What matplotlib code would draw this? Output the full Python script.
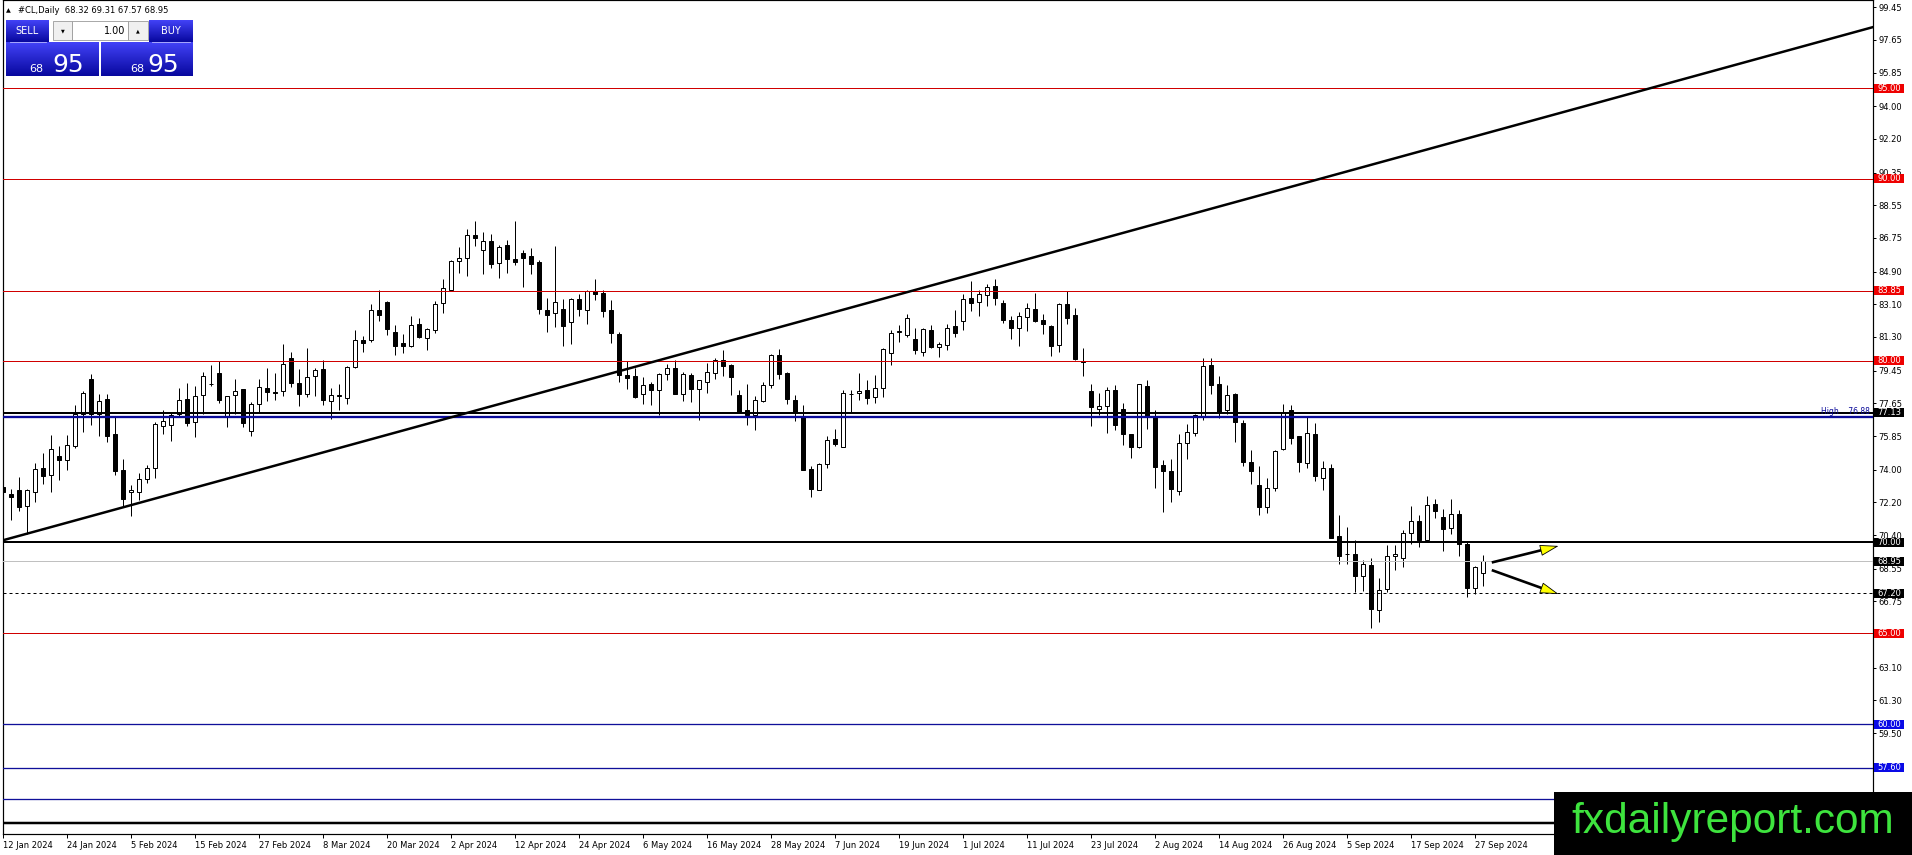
import matplotlib
matplotlib.use("Agg")
import matplotlib.pyplot as plt
import numpy as np
from matplotlib.patches import Rectangle, FancyArrowPatch
from matplotlib import transforms

# ---------------- data ----------------
opens = [73.05, 72.68, 72.87, 72.02, 72.77, 74.11, 73.73, 74.74, 74.55, 75.32,
         77.05, 78.97, 77.05, 77.87, 75.98, 73.97, 72.79, 72.77, 73.51, 74.11,
         76.40, 76.48, 77.08, 77.87, 76.62, 78.09, 78.70, 79.34, 76.90, 78.13,
         78.42, 76.13, 77.62, 78.51, 78.29, 78.33, 80.16, 78.79, 78.16, 79.17,
         79.56, 77.78, 78.05, 77.96, 79.65, 81.12, 81.15, 82.77, 83.21, 81.56,
         80.95, 80.79, 81.99, 81.26, 81.70, 83.19, 83.87, 85.50, 85.66, 86.89,
         86.10, 86.58, 85.39, 86.34, 85.61, 85.94, 85.74, 85.43, 82.80, 82.64,
         82.86, 82.12, 83.37, 82.80, 83.83, 83.74, 82.77, 81.48, 79.19, 79.14,
         78.18, 78.73, 78.37, 79.25, 79.61, 78.18, 79.19, 78.44, 78.84, 79.34,
         80.02, 79.74, 78.13, 77.30, 77.03, 77.80, 78.64, 80.29, 79.32, 77.85,
         76.90, 74.06, 72.90, 74.33, 75.71, 75.25, 78.15, 78.22, 78.40, 78.00,
         78.51, 80.42, 81.56, 81.41, 81.17, 80.47, 81.70, 80.75, 80.88, 81.89,
         82.18, 83.46, 83.23, 83.63, 84.09, 83.19, 82.25, 81.80, 82.40, 82.86,
         82.22, 81.89, 80.86, 83.13, 82.49, 79.98, 78.31, 77.34, 77.50, 78.40,
         77.32, 75.95, 75.25, 78.60, 76.95, 74.28, 73.91, 72.83, 75.47, 76.02,
         76.90, 79.78, 78.73, 77.27, 78.18, 76.59, 74.43, 73.14, 71.95, 72.99,
         75.12, 77.27, 75.84, 74.39, 75.95, 73.56, 74.11, 70.33, 69.38, 69.38,
         68.15, 68.77, 66.30, 67.42, 69.27, 69.16, 70.52, 71.16, 70.15, 72.10,
         71.40, 70.81, 71.58, 69.93, 67.51, 68.32]
highs = [75.25, 72.96, 73.60, 72.96, 74.37, 74.92, 75.89, 75.29, 75.89, 77.54,
         78.33, 79.28, 78.18, 78.15, 76.90, 74.57, 73.14, 73.82, 74.24, 76.62,
         77.30, 77.12, 78.51, 78.79, 78.62, 79.37, 79.78, 79.96, 78.07, 78.97,
         78.42, 77.74, 78.99, 79.61, 79.30, 80.90, 80.46, 79.52, 80.71, 79.61,
         80.05, 78.51, 78.73, 79.69, 81.67, 81.34, 83.10, 83.90, 83.28, 81.94,
         81.48, 82.48, 82.36, 81.79, 83.28, 84.51, 85.52, 86.25, 87.22, 87.66,
         87.08, 86.98, 86.38, 86.62, 87.66, 86.07, 86.21, 85.52, 83.46, 86.29,
         83.41, 83.46, 83.68, 83.87, 84.47, 83.90, 83.32, 81.57, 79.96, 79.61,
         79.10, 78.81, 79.32, 79.83, 80.02, 79.37, 79.32, 78.95, 79.89, 80.16,
         80.60, 79.83, 78.40, 78.70, 78.07, 78.84, 80.35, 80.66, 79.37, 78.13,
         77.54, 74.19, 74.37, 75.84, 76.26, 78.40, 78.40, 79.34, 78.92, 79.19,
         80.71, 81.70, 81.94, 82.55, 81.81, 81.81, 81.94, 81.02, 82.03, 82.77,
         83.65, 84.38, 83.90, 84.23, 84.51, 83.35, 82.46, 82.68, 83.17, 83.74,
         82.58, 81.94, 83.17, 83.83, 82.91, 80.71, 78.73, 78.24, 78.55, 78.64,
         77.69, 75.98, 78.70, 78.92, 77.30, 74.52, 74.61, 75.95, 76.53, 77.08,
         80.16, 80.16, 79.14, 78.64, 78.22, 76.72, 75.10, 74.19, 73.56, 75.10,
         77.63, 77.54, 75.84, 76.90, 76.57, 74.46, 74.33, 71.49, 70.85, 70.15,
         69.01, 69.11, 68.01, 69.84, 69.84, 70.70, 71.99, 71.53, 72.53, 72.41,
         71.86, 72.41, 71.77, 70.08, 68.68, 69.31]
lows = [72.41, 71.25, 71.73, 70.48, 72.22, 73.23, 72.77, 73.42, 73.97, 75.19,
        76.07, 76.44, 75.85, 75.52, 73.69, 71.95, 71.43, 72.35, 73.27, 73.56,
        75.95, 75.58, 76.90, 76.39, 75.80, 77.08, 78.60, 77.67, 76.35, 77.08,
        76.35, 75.87, 77.14, 77.78, 77.82, 78.04, 78.55, 77.50, 78.00, 78.04,
        77.56, 76.79, 77.30, 77.60, 79.61, 80.47, 81.02, 82.18, 81.39, 80.29,
        80.42, 80.75, 81.26, 80.60, 81.52, 82.62, 83.87, 84.82, 84.67, 86.31,
        84.75, 85.11, 84.56, 84.82, 85.28, 84.05, 84.78, 82.58, 81.57, 81.85,
        80.83, 80.90, 82.44, 81.99, 83.35, 82.40, 80.97, 78.81, 78.46, 77.96,
        77.60, 77.54, 76.99, 78.92, 78.15, 77.76, 77.72, 76.72, 78.22, 78.99,
        79.14, 78.09, 77.12, 76.48, 76.20, 77.72, 78.51, 79.01, 77.63, 76.68,
        73.97, 72.50, 72.87, 74.09, 75.29, 75.25, 77.17, 77.85, 77.63, 77.69,
        78.00, 79.74, 81.02, 81.30, 80.38, 80.25, 80.71, 80.20, 80.57, 81.30,
        81.70, 82.73, 82.44, 82.99, 83.04, 82.07, 81.21, 80.81, 81.63, 82.12,
        81.45, 80.24, 80.47, 81.99, 80.05, 79.14, 76.39, 76.99, 76.02, 76.20,
        75.34, 74.64, 75.19, 76.22, 72.99, 71.67, 72.21, 72.59, 74.57, 75.84,
        76.72, 78.15, 76.86, 77.05, 75.52, 74.21, 73.23, 71.49, 71.62, 72.81,
        75.07, 75.43, 73.87, 74.09, 73.38, 72.90, 70.21, 68.83, 68.83, 67.24,
        67.31, 65.29, 65.62, 67.27, 68.50, 68.65, 69.93, 69.75, 70.08, 71.34,
        69.53, 70.48, 69.25, 67.00, 67.13, 67.57]
closes = [72.77, 72.50, 71.95, 72.87, 74.06, 73.66, 75.16, 74.55, 75.38, 77.08,
          78.24, 77.05, 77.80, 75.85, 73.93, 72.39, 72.87, 73.51, 74.11, 76.50,
          76.66, 76.99, 77.82, 76.57, 78.07, 79.17, 78.73, 77.83, 78.07, 78.35,
          76.57, 77.63, 78.57, 78.29, 78.22, 79.83, 78.77, 78.16, 79.12, 79.50,
          77.83, 78.13, 78.13, 79.65, 81.15, 80.97, 82.80, 82.51, 81.72, 80.82,
          80.82, 81.98, 81.30, 81.76, 83.13, 84.01, 85.46, 85.66, 86.89, 86.76,
          86.58, 85.33, 86.25, 85.59, 85.43, 85.66, 85.33, 82.86, 82.53, 83.21,
          81.91, 83.41, 82.86, 83.81, 83.68, 82.73, 81.52, 79.19, 79.06, 78.00,
          78.68, 78.40, 79.25, 79.59, 78.18, 79.25, 78.46, 78.92, 79.38, 80.02,
          79.69, 79.10, 77.16, 76.99, 77.85, 78.64, 80.29, 79.28, 77.89, 77.12,
          74.00, 72.96, 74.33, 75.65, 75.40, 78.24, 78.18, 78.33, 77.94, 78.51,
          80.62, 81.54, 81.61, 82.36, 80.60, 81.76, 80.75, 80.93, 81.81, 81.52,
          83.41, 83.17, 83.68, 84.05, 83.46, 82.22, 81.80, 82.44, 82.91, 82.16,
          82.02, 80.80, 83.13, 82.34, 80.07, 79.94, 77.45, 77.52, 78.37, 76.44,
          75.95, 75.25, 78.70, 76.95, 74.15, 73.93, 72.94, 75.49, 76.07, 77.03,
          79.69, 78.64, 77.17, 78.13, 76.61, 74.43, 73.93, 71.95, 73.01, 75.01,
          77.17, 75.76, 74.42, 76.04, 73.65, 74.11, 70.24, 69.25, 69.33, 68.15,
          68.83, 66.32, 67.40, 69.23, 69.33, 70.52, 71.16, 70.11, 72.04, 71.73,
          70.76, 71.58, 69.88, 67.51, 68.65, 68.95]

date_labels = ["12 Jan 2024", "24 Jan 2024", "5 Feb 2024", "15 Feb 2024",
               "27 Feb 2024", "8 Mar 2024", "20 Mar 2024", "2 Apr 2024",
               "12 Apr 2024", "24 Apr 2024", "6 May 2024", "16 May 2024",
               "28 May 2024", "7 Jun 2024", "19 Jun 2024", "1 Jul 2024",
               "11 Jul 2024", "23 Jul 2024", "2 Aug 2024", "14 Aug 2024",
               "26 Aug 2024", "5 Sep 2024", "17 Sep 2024", "27 Sep 2024"]
date_step = 8

price_ticks = [99.45, 97.65, 95.85, 94.00, 92.20, 90.35, 88.55, 86.75, 84.90,
               83.10, 81.30, 79.45, 77.65, 75.85, 74.00, 72.20, 70.40, 68.55,
               66.75, 64.90, 63.10, 61.30, 59.50, 57.65, 55.85]

red_levels = [95.00, 90.00, 83.85, 80.00, 65.00]
blue_levels = [60.00, 57.60, 55.85]
blue_labelled = [60.00, 57.60]
resistance_level = 77.13
high_level = 76.88
support_level = 70.00
bid_price = 68.95
dashed_level = 67.20
bottom_level = 54.55

trend_bars = [3, 15]
trend_prices = [70.48, 71.93]

arrow_start_bars = [186.05, 186.05]
arrow_start_prices = [68.89, 68.47]
arrow_end_bars = [194.4, 194.4]
arrow_end_prices = [69.80, 67.15]

header_symbol = "#CL,Daily"

# ---------------- figure ----------------
W, H = 1912, 855
fig = plt.figure(figsize=(W / 100, H / 100), dpi=100)
fig.patch.set_facecolor("white")

L_px, R_px, T_px, B_px = 2.7, 1873.0, 0.5, 834.3
ax = fig.add_axes([L_px / W, 1 - B_px / H, (R_px - L_px) / W, (B_px - T_px) / H])
ax.set_facecolor("white")

n = len(opens)
x = np.arange(n)
o = np.array(opens); h = np.array(highs); l = np.array(lows); c = np.array(closes)

ymin, ymax = 53.93, 99.82
ax.set_xlim(-0.075, 233.7)
ax.set_ylim(ymin, ymax)
ppu = (B_px - T_px) / (ymax - ymin)  # pixels per price unit

px = 0.72  # one pixel in points

# candles
ax.vlines(x, l, h, color="black", lw=px, zorder=3)
up = c >= o
bottoms = np.where(up, o, c)
heights = np.abs(c - o)
ax.bar(x, heights, bottom=bottoms, width=0.5,
       color=np.where(up, "white", "black"), edgecolor="black",
       linewidth=px, zorder=4)

# horizontal levels
for lv in red_levels:
    ax.axhline(lv, color="#d00000", lw=px, zorder=5)
for lv in blue_levels:
    ax.axhline(lv, color="#10109a", lw=px * 1.3, zorder=5)
ax.axhline(resistance_level, color="black", lw=px * 2, zorder=5)
ax.axhline(high_level, color="#0a0a9a", lw=px * 2.3, zorder=5)
ax.axhline(support_level, color="black", lw=px * 2, zorder=5)
ax.axhline(bid_price, color="#c0c0c0", lw=px, zorder=5)
ax.axhline(dashed_level, color="black", lw=px, ls=(0, (3, 3)), zorder=5)
ax.axhline(bottom_level, color="black", lw=px * 2.5, zorder=5)

# trend line
ax.axline((trend_bars[0], trend_prices[0]), (trend_bars[1], trend_prices[1]),
          color="black", lw=1.8, zorder=6)

# arrows
for xs, ys, xe, ye in zip(arrow_start_bars, arrow_start_prices,
                          arrow_end_bars, arrow_end_prices):
    ax.plot([xs, xe - (xe - xs) * 0.18], [ys, ye - (ye - ys) * 0.18],
            color="black", lw=1.9, zorder=7, solid_capstyle="butt")
    head = FancyArrowPatch((xe - (xe - xs) * 0.3, ye - (ye - ys) * 0.3), (xe, ye),
                           arrowstyle="-|>,head_length=12,head_width=3.6",
                           mutation_scale=1, shrinkA=0, shrinkB=0,
                           facecolor="#ffff00", edgecolor="black", lw=0.6,
                           zorder=8)
    head.set_linewidth(0.6)
    ax.add_patch(head)

# axes styling
for sp in ax.spines.values():
    sp.set_color("black")
    sp.set_linewidth(px * 1.2)
ax.yaxis.tick_right()
ax.set_yticks(price_ticks)
ax.set_yticklabels([f"{v:.2f}" for v in price_ticks])
ax.tick_params(axis="y", which="both", direction="out", length=2.5, width=px,
               labelsize=6, pad=1.5, colors="black", left=False)
tick_pos = list(range(0, n, date_step))[:len(date_labels)]
ax.set_xticks(tick_pos)
ax.set_xticklabels(date_labels, ha="left")
ax.tick_params(axis="x", direction="out", length=3, width=px, labelsize=6,
               pad=1.5, colors="black")

# right-axis label boxes
blend = transforms.blended_transform_factory(ax.transAxes, ax.transData)
bx0 = (1874 - L_px) / (R_px - L_px)
bw = 30 / (R_px - L_px)
bh = 9 / ppu


def add_box(price, color):
    ax.add_patch(Rectangle((bx0, price - bh / 2), bw, bh, transform=blend,
                           facecolor=color, edgecolor="none", clip_on=False,
                           zorder=20))
    ax.text(bx0 + bw / 2, price, f"{price:.2f}", transform=blend, color="white",
            fontsize=6, ha="center", va="center", clip_on=False, zorder=21)


for lv in red_levels:
    add_box(lv, "#ee0000")
for lv in [resistance_level, support_level, bid_price, dashed_level]:
    add_box(lv, "black")
for lv in blue_labelled:
    add_box(lv, "#0a0ae6")

ax.text(1 - 3 / (R_px - L_px), high_level + 1.5 / ppu,
        f"High    {high_level:.2f}", transform=blend, color="#0a0a9a",
        fontsize=5.5, ha="right", va="bottom", zorder=9)

# ---------------- overlay (panel, header, watermark) ----------------
ov = fig.add_axes([0, 0, 1, 1], zorder=10)
ov.patch.set_alpha(0)
ov.set_axis_off()


def grad_rect(x0, y0, x1, y1, top=(0.26, 0.26, 0.97), bottom=(0.03, 0.03, 0.62)):
    t = np.linspace(0, 1, 64)[:, None, None]
    arr = np.array(top)[None, None, :] * (1 - t) + np.array(bottom)[None, None, :] * t
    ov.imshow(arr, extent=(x0, x1, y1, y0), origin="upper", aspect="auto",
              interpolation="bilinear", zorder=20)


# header line
ov.text(6, 10.5, "\u25B2", fontsize=4.5, ha="left", va="center", color="black", zorder=25)
ov.text(18, 10.5, f"{header_symbol}  {opens[-1]:.2f} {highs[-1]:.2f} {lows[-1]:.2f} {closes[-1]:.2f}",
        fontsize=6, ha="left", va="center", color="black", zorder=25)

# one-click trading panel
grad_rect(6, 20, 49, 42)
grad_rect(149, 20, 193, 42)
grad_rect(6, 42.5, 99, 76)
grad_rect(101, 42.5, 193, 76)
ov.plot([10, 46], [42.2, 42.2], color="#b8b8ff", lw=0.6, zorder=22)
ov.plot([152, 190], [42.2, 42.2], color="#b8b8ff", lw=0.6, zorder=22)
ov.add_patch(Rectangle((53, 21.5), 19, 19, facecolor="#f0f0f0", edgecolor="#9a9a9a",
                       lw=0.6, zorder=22))
ov.add_patch(Rectangle((72, 21.5), 56, 19, facecolor="white", edgecolor="#9a9a9a",
                       lw=0.6, zorder=22))
ov.add_patch(Rectangle((128, 21.5), 20, 19, facecolor="#f0f0f0", edgecolor="#9a9a9a",
                       lw=0.6, zorder=22))
ov.text(62.5, 31, "\u25BC", fontsize=3.5, ha="center", va="center", color="black", zorder=25)
ov.text(138, 31, "\u25B2", fontsize=3.5, ha="center", va="center", color="black", zorder=25)
ov.text(125, 31, "1.00", fontsize=7, ha="right", va="center", color="black", zorder=25)
ov.text(27.5, 31, "SELL", fontsize=7, ha="center", va="center", color="white", zorder=25)
ov.text(171, 31, "BUY", fontsize=7, ha="center", va="center", color="white", zorder=25)
bid_str = f"{bid_price:.2f}"
big, small = bid_str.split(".")
ov.text(43, 71.5, big, fontsize=8, ha="right", va="baseline", color="white", zorder=25)
ov.text(52, 71.5, small, fontsize=18, ha="left", va="baseline", color="white", zorder=25)
ov.text(144, 71.5, big, fontsize=8, ha="right", va="baseline", color="white", zorder=25)
ov.text(147, 71.5, small, fontsize=18, ha="left", va="baseline", color="white", zorder=25)

# watermark
ov.add_patch(Rectangle((1554, 792), 358, 63, facecolor="black", edgecolor="none", zorder=30))
ov.text(1571, 822, "fxdailyreport.com", fontsize=30.5, family="Liberation Sans",
        color="#3ee43e", ha="left", va="center", zorder=31)

ov.set_xlim(0, W)
ov.set_ylim(H, 0)

fig.savefig("out.png", dpi=100)
